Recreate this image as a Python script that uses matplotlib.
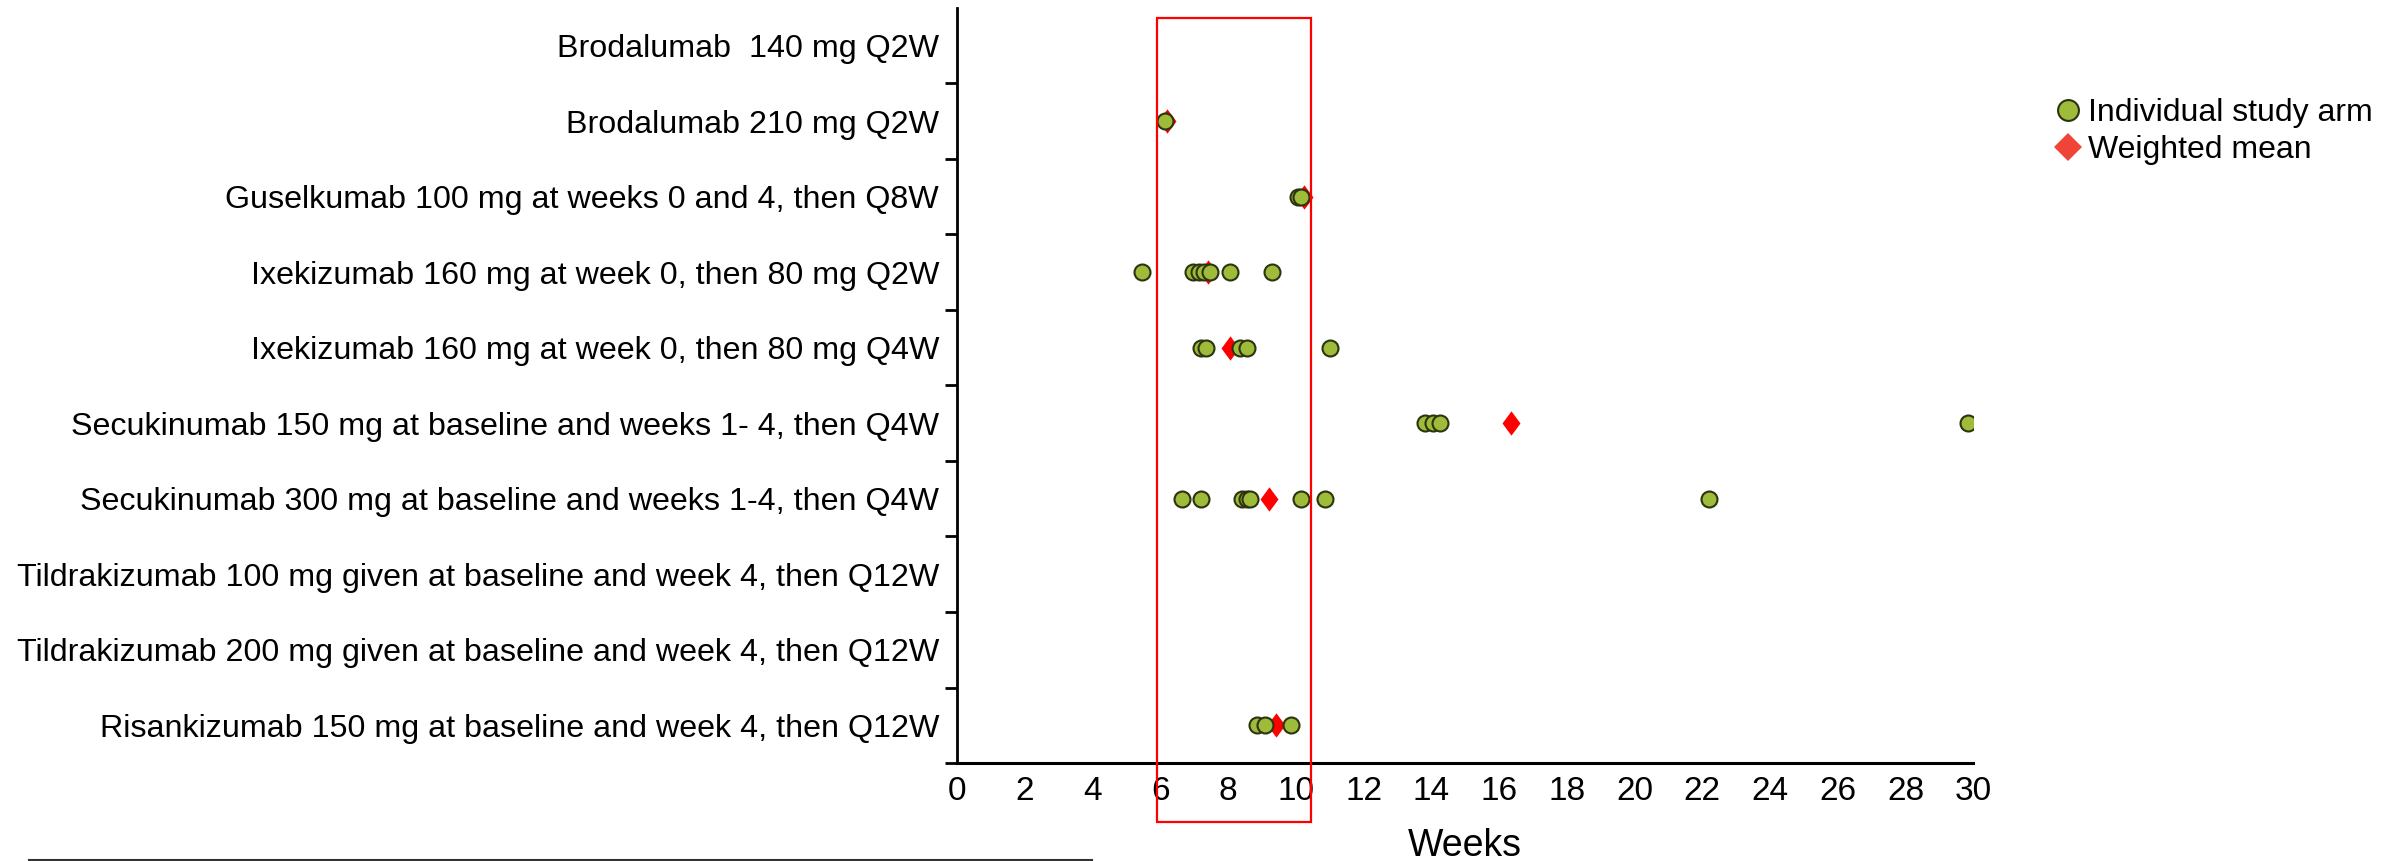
import matplotlib
matplotlib.use('Agg')
import matplotlib.pyplot as plt
import matplotlib.transforms as mtransforms
from matplotlib.patches import Rectangle
from matplotlib.lines import Line2D

plt.rcParams['font.family'] = ['Liberation Sans', 'DejaVu Sans']

# Regimens, top to bottom
regimens = [
    "Brodalumab  140 mg Q2W",
    "Brodalumab 210 mg Q2W",
    "Guselkumab 100 mg at weeks 0 and 4, then Q8W",
    "Ixekizumab 160 mg at week 0, then 80 mg Q2W",
    "Ixekizumab 160 mg at week 0, then 80 mg Q4W",
    "Secukinumab 150 mg at baseline and weeks 1- 4, then Q4W",
    "Secukinumab 300 mg at baseline and weeks 1-4, then Q4W",
    "Tildrakizumab 100 mg given at baseline and week 4, then Q12W",
    "Tildrakizumab 200 mg given at baseline and week 4, then Q12W",
    "Risankizumab 150 mg at baseline and week 4, then Q12W",
]

# Individual study arms (weeks), one list per regimen
brod140_arms = []
brod210_arms = [6.15]
gus_arms = [10.05, 10.15]
ixe_q2w_arms = [5.45, 6.95, 7.15, 7.3, 7.45, 8.05, 9.3]
ixe_q4w_arms = [7.2, 7.35, 8.35, 8.55, 11.0]
secu150_arms = [13.8, 14.05, 14.25, 29.85]
secu300_arms = [6.65, 7.2, 8.4, 8.55, 8.65, 10.15, 10.85, 22.2]
tildra100_arms = []
tildra200_arms = []
risa_arms = [8.85, 9.1, 9.85]

study_arms = [brod140_arms, brod210_arms, gus_arms, ixe_q2w_arms, ixe_q4w_arms,
              secu150_arms, secu300_arms, tildra100_arms, tildra200_arms, risa_arms]

# Weighted mean per regimen (None = no data)
weighted_means = [None, 6.2, 10.25, 7.4, 8.05, 16.35, 9.2, None, None, 9.4]

# Highlighted window (weeks)
box_start, box_end = 5.9, 10.45

xticks = list(range(0, 31, 2))

fig = plt.figure(figsize=(24.02, 8.61), dpi=100)
ax = fig.add_axes([0.3985, 0.1138, 0.4230, 0.8770])

n = len(regimens)
ypos = [n - 1 - i for i in range(n)]

# tall, narrow diamond like the original
thin_diamond = [(0, 1), (0.74, 0), (0, -1), (-0.74, 0), (0, 1)]

# weighted means go underneath the dots
for y, m in zip(ypos, weighted_means):
    if m is not None:
        ax.plot([m], [y], linestyle='none', marker=thin_diamond, markersize=17.5,
                color='#ff0000', markeredgewidth=0, zorder=2)

for y, arms in zip(ypos, study_arms):
    if arms:
        ax.plot(arms, [y] * len(arms), linestyle='none', marker='o', markersize=11.5,
                markerfacecolor='#9fbb3a', markeredgecolor='#2b3310',
                markeredgewidth=1.5, zorder=3)

ax.set_xlim(0, 30)
ax.set_ylim(-0.5, n - 0.5)

# category labels at row centres, tick marks at row boundaries
ax.set_yticks(ypos)
ax.set_yticklabels(regimens, fontsize=23.2)
ax.tick_params(axis='y', which='major', length=0, pad=13)
ax.set_yticks([b - 0.5 for b in range(n)], minor=True)
ax.tick_params(axis='y', which='minor', length=9, width=2, direction='out')

ax.set_xticks(xticks)
ax.set_xticklabels([str(t) for t in xticks], fontsize=24)
ax.tick_params(axis='x', length=0, pad=9.5)
ax.set_xlabel('Weeks', fontsize=27, labelpad=15)

for side in ['top', 'right']:
    ax.spines[side].set_visible(False)
ax.spines['left'].set_linewidth(2)
ax.spines['bottom'].set_linewidth(2.2)

# red box around 6-10 weeks, running below the axis
trans = mtransforms.blended_transform_factory(ax.transData, ax.transAxes)
ax.add_patch(Rectangle((box_start, -0.078), box_end - box_start, 0.9868 + 0.078,
                       transform=trans, fill=False, edgecolor='#ff0000',
                       linewidth=1.6, clip_on=False, zorder=4))

# legend
handles = [
    Line2D([], [], linestyle='none', marker='o', markersize=15,
           markerfacecolor='#9fbb3a', markeredgecolor='#2b3310', markeredgewidth=1.5),
    Line2D([], [], linestyle='none', marker='D', markersize=14,
           color='#f04438', markeredgewidth=0),
]
fig.legend(handles, ['Individual study arm', 'Weighted mean'],
           loc='upper left', bbox_to_anchor=(0.8555, 0.886), frameon=False,
           fontsize=23, handlelength=0.8, handletextpad=0.25, labelspacing=0.22,
           borderaxespad=0, borderpad=0)

# footnote separator line at the bottom left
fig.add_artist(Line2D([29 / 2402, 1092 / 2402], [0.0015, 0.0015],
                      transform=fig.transFigure, color='#333333', linewidth=1.5))

fig.savefig('out.png', dpi=100)
